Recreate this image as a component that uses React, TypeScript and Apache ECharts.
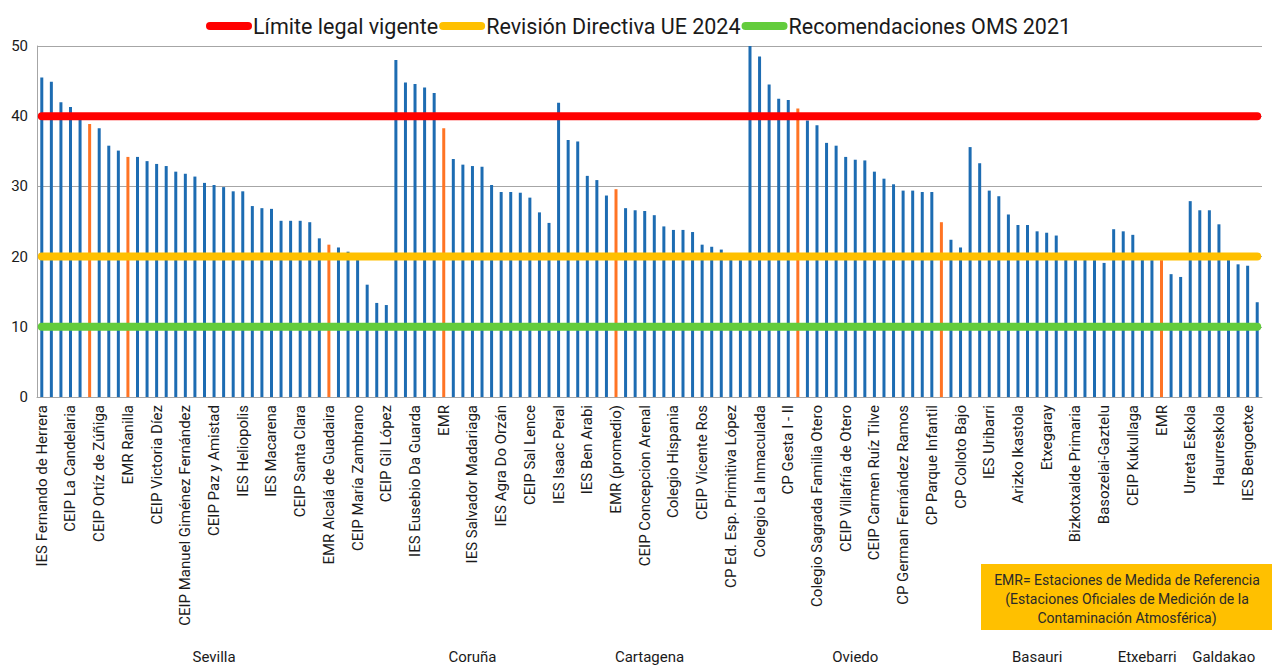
import React, { useEffect, useRef } from "react";
import * as echarts from "echarts";

// Labels shown on the axis (every third station)
const stationLabels = [
  "IES Fernando de Herrera", "CEIP La Candelaria", "CEIP Ortíz de Zúñiga", "EMR Ranilla",
  "CEIP Victoria Díez", "CEIP Manuel Giménez Fernández", "CEIP Paz y Amistad", "IES Heliopolis",
  "IES Macarena", "CEIP Santa Clara", "EMR Alcalá de Guadaira", "CEIP María Zambrano",
  "CEIP Gil López", "IES Eusebio Da Guarda", "EMR", "IES Salvador Madariaga",
  "IES Agra Do Orzán", "CEIP Sal Lence", "IES Isaac Peral", "IES Ben Arabi",
  "EMR (promedio)", "CEIP Concepcion Arenal", "Colegio Hispania", "CEIP Vicente Ros",
  "CP Ed. Esp. Primitiva López", "Colegio La Inmaculada", "CP Gesta I - II", "Colegio Sagrada Familia Otero",
  "CEIP Villafría de Otero", "CEIP Carmen Ruíz Tilve", "CP German Fernández Ramos", "CP Parque Infantil",
  "CP Colloto Bajo", "IES Uribarri", "Arizko Ikastola", "Etxegaray",
  "Bizkotxalde Primaria", "Basozelai-Gaztelu", "CEIP Kukullaga", "EMR",
  "Urreta Eskola", "Haurreskola", "IES Bengoetxe",
];

// NO2 values per station (µg/m³)
const sevillaValues = [
  45.5, 44.9, 42.0, 41.3, 39.6, 38.9, 38.3, 35.8, 35.1, 34.2, 34.2, 33.6, 33.2, 32.9, 32.1, 31.8,
  31.4, 30.5, 30.2, 29.9, 29.3, 29.3, 27.2, 26.9, 26.8, 25.1, 25.1, 25.1, 24.9, 22.6, 21.7, 21.3,
  20.7, 20.4, 16.0, 13.4, 13.1,
];
const corunaValues = [48.0, 44.8, 44.6, 44.1, 43.3, 38.3, 33.9, 33.1, 32.9, 32.8, 30.2, 29.2, 29.2, 29.1, 28.4, 26.3, 24.8];
const cartagenaValues = [41.9, 36.6, 36.4, 31.5, 30.9, 28.7, 29.6, 26.9, 26.6, 26.5, 25.9, 24.3, 23.8, 23.8, 23.5, 21.7, 21.4, 21.0, 19.6, 19.5];
const oviedoValues = [50.0, 48.5, 44.5, 42.5, 42.3, 41.1, 39.4, 38.7, 36.2, 35.8, 34.2, 33.8, 33.7, 32.1, 31.1, 30.3, 29.4, 29.4, 29.2, 29.2, 24.9, 22.4, 21.3];
const basauriValues = [35.6, 33.3, 29.4, 28.6, 26.0, 24.5, 24.5, 23.6, 23.4, 23.0, 19.6, 19.5, 19.6, 19.5, 19.1];
const etxebarriValues = [23.9, 23.6, 23.1, 19.6, 19.5, 19.5, 17.5, 17.1];
const galdakaoValues = [27.9, 26.6, 26.6, 24.6, 19.6, 18.9, 18.7, 13.5];

const cityNames = ["Sevilla", "Coruña", "Cartagena", "Oviedo", "Basauri", "Etxebarri", "Galdakao"];
const cityValues = [sevillaValues, corunaValues, cartagenaValues, oviedoValues, basauriValues, etxebarriValues, galdakaoValues];

// Reference stations (EMR), drawn in orange
const emrIndices = [5, 9, 30, 42, 60, 79, 94, 117];

const thresholdNames = ["Límite legal vigente", "Revisión Directiva UE 2024", "Recomendaciones OMS 2021"];
const thresholdValues = [40, 20, 10];
const thresholdColors = ["#FF0000", "#FFC000", "#63CC3C"];

const noteLines = [
  "EMR= Estaciones de Medida de Referencia",
  "(Estaciones Oficiales de Medición de la",
  "Contaminación Atmosférica)",
];

const FONT = "Roboto, 'Noto Sans', sans-serif";

export default function App() {
  const ref = useRef<HTMLDivElement>(null);

  useEffect(() => {
    if (!ref.current) return;
    const chart = echarts.init(ref.current, null, { renderer: "svg" });

    const values: number[] = ([] as number[]).concat(...cityValues);
    const categories = values.map((_, i) => (i % 3 === 0 ? stationLabels[i / 3] : ""));

    const barData = values.map((v, i) => ({
      value: v,
      itemStyle: { color: emrIndices.includes(i) ? "#FF7424" : "#1D6CB2" },
    }));

    const lineSeries = thresholdNames.map((name, ti) => ({
      name,
      type: "line",
      data: categories.map(() => thresholdValues[ti]),
      symbol: "none",
      color: thresholdColors[ti],
      lineStyle: { width: 8, color: thresholdColors[ti], cap: "round" },
      z: 3,
    }));

    chart.setOption({
      animation: false,
      textStyle: { fontFamily: FONT },
      legend: {
        data: thresholdNames,
        left: 201,
        top: 10,
        itemWidth: 38,
        itemHeight: 8,
        itemGap: 1,
        lineStyle: { width: 8, cap: "round" },
        textStyle: { fontSize: 21.5, color: "#1a1a1a", fontFamily: FONT },
      },
      grid: { left: 37, right: 10, top: 46, bottom: 268, containLabel: false },
      xAxis: {
        type: "category",
        data: categories,
        boundaryGap: true,
        axisLine: { lineStyle: { color: "#A6A6A6", width: 1 } },
        axisTick: { show: false },
        axisLabel: {
          interval: 2,
          rotate: 90,
          margin: 8,
          fontSize: 15,
          color: "#1a1a1a",
          fontFamily: FONT,
        },
      },
      yAxis: {
        type: "value",
        min: 0,
        max: 50,
        interval: 10,
        axisLine: { show: true, lineStyle: { color: "#A6A6A6", width: 1 } },
        axisTick: { show: false },
        splitLine: { lineStyle: { color: "#A6A6A6", width: 1 } },
        axisLabel: { fontSize: 15, color: "#1a1a1a", margin: 9, fontFamily: FONT },
      },
      series: [
        {
          name: "NO2",
          type: "bar",
          data: barData,
          barWidth: 3,
          z: 2,
        },
        ...lineSeries,
      ],
    });

    // City group labels centred under each group's stations
    let start = 0;
    const cityTexts = cityNames.map((name, gi) => {
      const end = start + cityValues[gi].length - 1;
      const x0 = chart.convertToPixel({ xAxisIndex: 0 }, start) as number;
      const x1 = chart.convertToPixel({ xAxisIndex: 0 }, end) as number;
      start = end + 1;
      return {
        type: "text",
        x: (x0 + x1) / 2,
        y: 657,
        style: {
          text: name,
          align: "center",
          verticalAlign: "middle",
          fontSize: 15,
          fontFamily: FONT,
          fill: "#1a1a1a",
        },
      };
    });

    const noteBox = {
      type: "group",
      children: [
        {
          type: "rect",
          shape: { x: 981, y: 564, width: 291, height: 66 },
          style: { fill: "#FFC000" },
        },
        ...noteLines.map((t, i) => ({
          type: "text",
          x: 1127,
          y: 580 + i * 19,
          style: {
            text: t,
            align: "center",
            verticalAlign: "middle",
            fontSize: 14,
            fontFamily: FONT,
            fill: "#2a2a2a",
          },
        })),
      ],
    };

    chart.setOption({ graphic: [...cityTexts, noteBox] });

    return () => chart.dispose();
  }, []);

  return (
    <div
      ref={ref}
      style={{ position: "fixed", left: 0, top: 0, width: 1272, height: 665, background: "#fff" }}
    />
  );
}
